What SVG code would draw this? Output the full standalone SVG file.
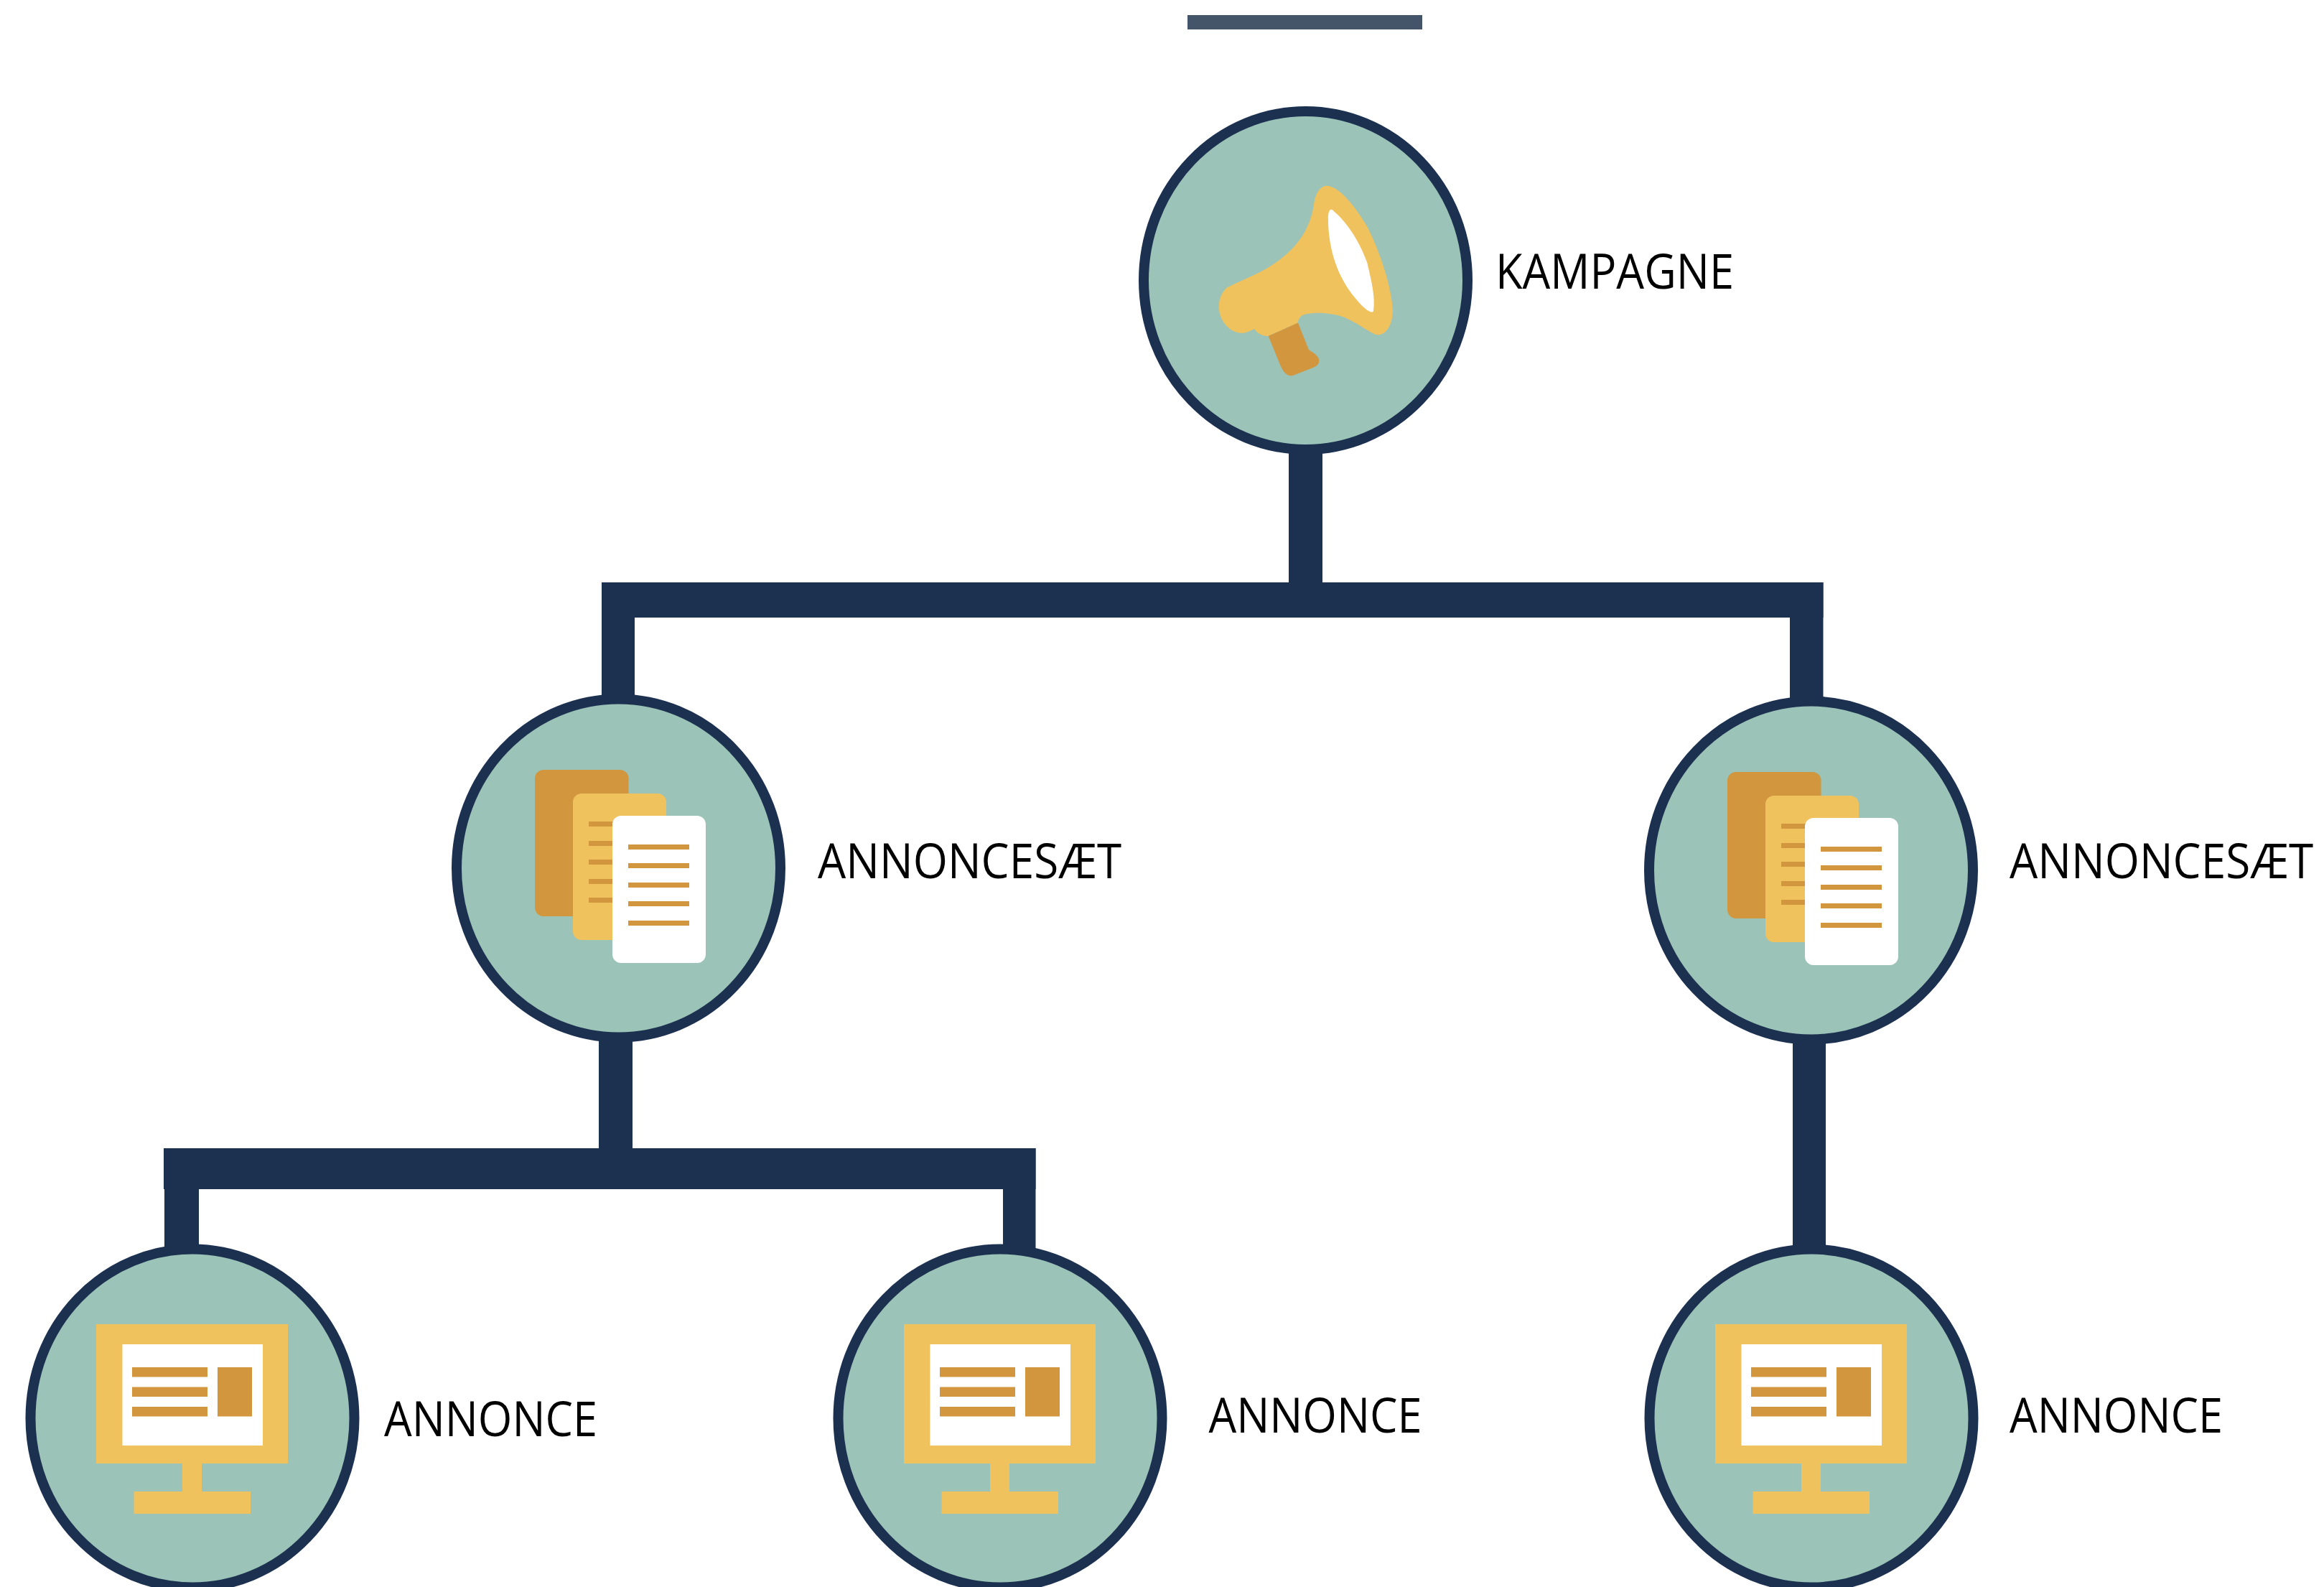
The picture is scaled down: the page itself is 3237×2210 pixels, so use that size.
<svg xmlns="http://www.w3.org/2000/svg" xmlns:xlink="http://www.w3.org/1999/xlink" width="3237" height="2210" viewBox="0 0 3237 2210">
<style>
.disc{fill:#9BC3B7;stroke:#1C3150;stroke-width:14}
.conn{fill:#1C3150}
.y{fill:#F0C25E}
.o{fill:#D2963F}
.w{fill:#FFFFFF}
.lbl{font-family:"Open Sans","Noto Sans",sans-serif;font-size:68px;fill:#000;}
</style>
<defs>
<g id="docs">
<rect class="o" x="745" y="1072" width="130.500" height="204" rx="12"/>
<rect class="y" x="798" y="1105" width="130" height="204" rx="12"/>
<g class="o"><rect x="820" y="1144" width="40" height="7"/><rect x="820" y="1171" width="40" height="7"/><rect x="820" y="1197" width="40" height="7"/><rect x="820" y="1224" width="40" height="7"/><rect x="820" y="1250" width="40" height="7"/></g>
<rect class="w" x="853" y="1136" width="130" height="205" rx="12"/>
<g class="o"><rect x="875" y="1176" width="85" height="7"/><rect x="875" y="1202" width="85" height="7"/><rect x="875" y="1229" width="85" height="7"/><rect x="875" y="1255" width="85" height="7"/><rect x="875" y="1282" width="85" height="7"/></g>
</g>
<g id="monitor">
<rect class="y" x="134" y="1844" width="267" height="194"/>
<rect class="y" x="254" y="2038" width="27" height="39"/>
<rect class="y" x="186.500" y="2077" width="162.500" height="31"/>
<rect class="w" x="170.500" y="1872" width="195.500" height="141"/>
<g class="o"><rect x="184" y="1904" width="105" height="13.500"/><rect x="184" y="1931.500" width="105" height="13.500"/><rect x="184" y="1959" width="105" height="13.500"/><rect x="303" y="1904" width="48" height="68.500"/></g>
</g>
</defs>
<rect width="3237" height="2210" fill="#FFFFFF"/>
<rect id="title-bar" x="1654" y="21" width="327" height="20" fill="#445569"/>
<g id="connectors" class="conn">
<rect x="1795" y="620" width="47" height="200"/>
<rect x="838" y="811" width="1701.500" height="49"/>
<rect x="838" y="811" width="46" height="170"/>
<rect x="2493" y="811" width="46.500" height="170"/>
<rect x="834" y="1440" width="47" height="170"/>
<rect x="228" y="1599" width="1214.500" height="57"/>
<rect x="229" y="1599" width="48" height="150"/>
<rect x="1397" y="1599" width="45.500" height="150"/>
<rect x="2497" y="1445" width="46" height="300"/>
</g>
<g id="kampagne">
<ellipse class="disc" cx="1818.500" cy="390.500" rx="225.500" ry="235.500"/>
<g transform="translate(1560 0) scale(0.574 0.4209)">
<path class="y" d="M470 680C474 640 485 615 503 615C530 618 565 670 600 750C630 830 660 950 662 1030C660 1080 645 1108 625 1108C610 1105 585 1075 545 1050C515 1035 470 1030 445 1042C435 1048 432 1060 432 1068L360 1112C345 1112 333 1102 326 1088C315 1095 305 1102 295 1102C265 1100 240 1060 240 1015C240 985 250 960 262 950C290 930 330 910 360 885C420 835 460 770 470 680Z"/>
<path class="w" d="M505 720C505 695 512 685 520 700C555 740 585 810 600 870C610 930 620 980 615 1030C610 1040 590 1020 570 985C530 920 505 830 505 720Z"/>
<path class="o" d="M360 1112L432 1068L458 1157C470 1168 484 1178 483 1195C482 1208 475 1213 465 1218L418 1243C405 1245 395 1230 388 1205Z"/>
</g>
<text class="lbl" transform="translate(2083 402) scale(.89 1)" x="0" y="0" textLength="373" lengthAdjust="spacingAndGlyphs">KAMPAGNE</text>
</g>
<g id="annoncesaet-1">
<ellipse class="disc" cx="861.500" cy="1209" rx="225.500" ry="235.500"/>
<use href="#docs" xlink:href="#docs"/>
<text class="lbl" transform="translate(1139 1223) scale(.92 1)" x="0" y="0" textLength="460" lengthAdjust="spacingAndGlyphs">ANNONCESÆT</text>
</g>
<g id="annoncesaet-2">
<ellipse class="disc" cx="2522.500" cy="1212" rx="225.500" ry="235.500"/>
<use href="#docs" xlink:href="#docs" transform="translate(1661 3)"/>
<text class="lbl" transform="translate(2799 1223) scale(.92 1)" x="0" y="0" textLength="460" lengthAdjust="spacingAndGlyphs">ANNONCESÆT</text>
</g>
<g id="annonce-1">
<ellipse class="disc" cx="268" cy="1975" rx="225.500" ry="235.500"/>
<use href="#monitor" xlink:href="#monitor"/>
<text class="lbl" transform="translate(535 2000) scale(.91 1)" x="0" y="0" textLength="326.500" lengthAdjust="spacingAndGlyphs">ANNONCE</text>
</g>
<g id="annonce-2">
<ellipse class="disc" cx="1393" cy="1975" rx="225.500" ry="235.500"/>
<use href="#monitor" xlink:href="#monitor" transform="translate(1125 0)"/>
<text class="lbl" transform="translate(1683.500 1994.500) scale(.91 1)" x="0" y="0" textLength="326.500" lengthAdjust="spacingAndGlyphs">ANNONCE</text>
</g>
<g id="annonce-3">
<ellipse class="disc" cx="2523" cy="1975" rx="225.500" ry="235.500"/>
<use href="#monitor" xlink:href="#monitor" transform="translate(2255 0)"/>
<text class="lbl" transform="translate(2799 1994.500) scale(.91 1)" x="0" y="0" textLength="326.500" lengthAdjust="spacingAndGlyphs">ANNONCE</text>
</g>
</svg>
